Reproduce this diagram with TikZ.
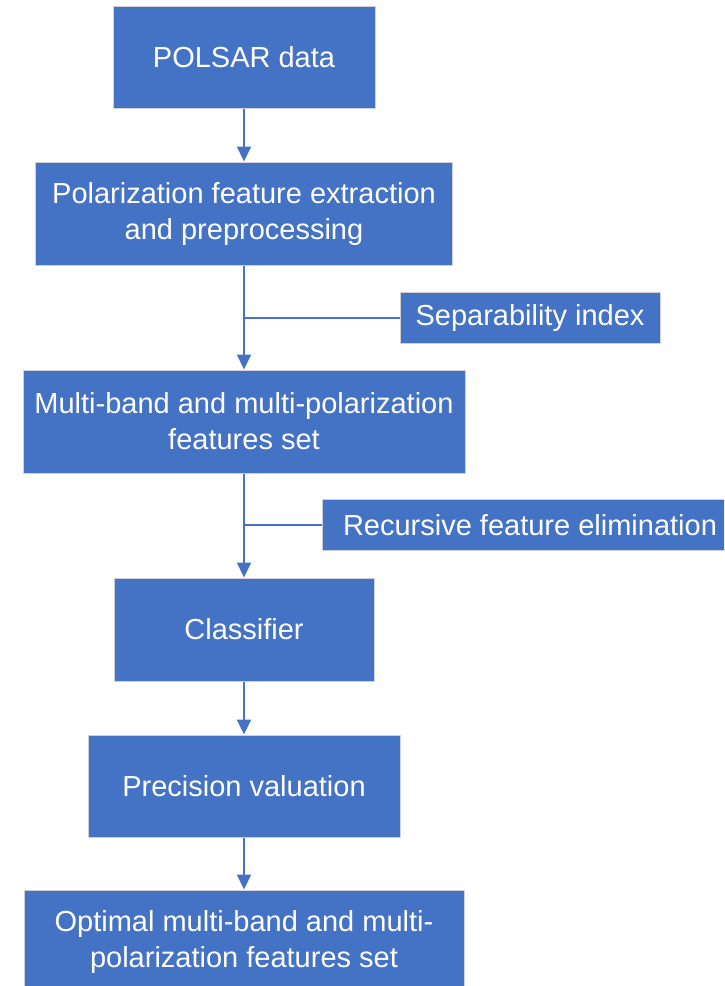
\documentclass[tikz,border=0pt]{standalone}
\usepackage{fontspec}
\setmainfont{Liberation Sans}
\usetikzlibrary{arrows.meta}
\definecolor{officeblue}{HTML}{4472C4}
\begin{document}
\begin{tikzpicture}[x=1pt,y=-1pt,
  flowbox/.style={rectangle, fill=officeblue, draw=black!18, line width=1pt,
    text=white, align=center, inner sep=0pt,
    font=\fontsize{29}{36}\selectfont},
  flowarrow/.style={draw=officeblue, line width=2pt,
    -{Triangle[width=14pt,length=15pt]}},
  flowline/.style={draw=officeblue, line width=2pt}]
\useasboundingbox (0,0) rectangle (724,986);
\clip (0,0) rectangle (724,986);
\node[flowbox, minimum width=262pt, minimum height=102pt] (b1) at (244,57) {POLSAR data};
\node[flowbox, minimum width=417pt, minimum height=103pt] (b2) at (244,213.5) {Polarization feature extraction\\and preprocessing};
\node[flowbox, minimum width=260pt, minimum height=51pt] (sep) at (530,317.5) {Separability index};
\node[flowbox, minimum width=442pt, minimum height=103pt] (b3) at (244,421.5) {Multi-band and multi-polarization\\features set};
\node[flowbox, minimum width=416pt, minimum height=51pt] (rfe) at (530,525) {Recursive feature elimination};
\node[flowbox, minimum width=260pt, minimum height=103pt] (b4) at (244,629.5) {Classifier};
\node[flowbox, minimum width=312pt, minimum height=102pt] (b5) at (244,786) {Precision valuation};
\node[flowbox, minimum width=440pt, minimum height=103pt] (b6) at (244,941.5) {Optimal multi-band and multi-\\polarization features set};
\draw[flowarrow] (b1) -- (b2);
\draw[flowarrow] (b2) -- (b3);
\draw[flowline] (sep.west) -- (sep.west -| b2.south);
\draw[flowarrow] (b3) -- (b4);
\draw[flowline] (rfe.west) -- (rfe.west -| b3.south);
\draw[flowarrow] (b4) -- (b5);
\draw[flowarrow] (b5) -- (b6);
\end{tikzpicture}
\end{document}
